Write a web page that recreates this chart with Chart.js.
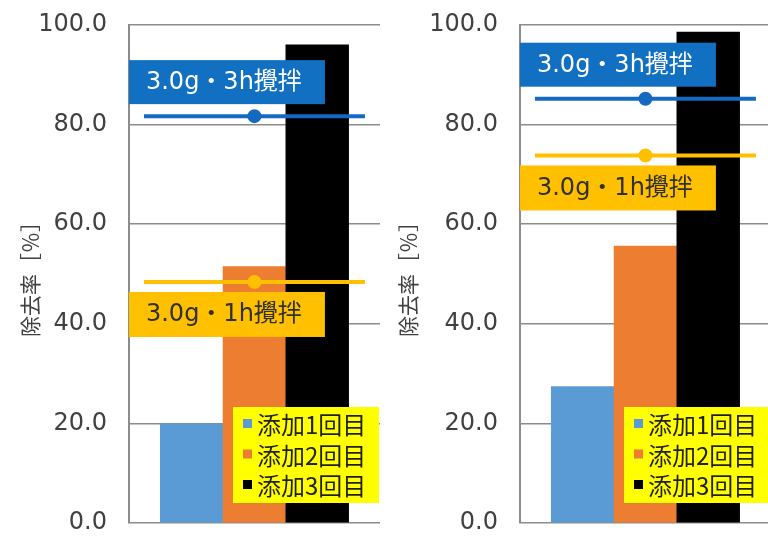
<!DOCTYPE html>
<html>
<head>
<meta charset="utf-8">
<script src="https://cdn.jsdelivr.net/npm/chart.js@4"></script>
<style>
  body { margin: 0; width: 768px; height: 540px; overflow: hidden; background: #fff; position: relative; }
  canvas { position: absolute; top: 0; }
  #leftChart { left: 0; }
  #rightChart { left: 391px; }
</style>
</head>
<body>
<canvas id="leftChart" width="391" height="540"></canvas>
<canvas id="rightChart" width="391" height="540"></canvas>
<script>
// ------- data --------------------------------
const seriesNames = ['添加1回目', '添加2回目', '添加3回目'];
const seriesColors = ['#5b9bd5', '#ed7d31', '#000000'];

const leftValues = [19.9, 51.5, 96.0];
const rightValues = [27.4, 55.6, 98.6];

// reference lines: [3h stirring, 1h stirring]
const refNames = ['3.0g・3h攪拌', '3.0g・1h攪拌'];
const leftRef = [81.7, 48.4];
const rightRef = [85.2, 73.8];

const yTitle = '除去率［％］';

// bars sit at x = 1, 2, 3 on a 0..4 axis; ref lines run across this span
const lineSpan = [0.24, 2, 3.76];

const tickFont = '"DejaVu Sans", "Noto Sans CJK JP", sans-serif';
const cjkFont = '"Noto Sans CJK JP", "DejaVu Sans", sans-serif';

// boxes with the ref line names + the yellow legend, drawn over the bars
const overlayPlugin = {
    id: 'overlay',
    afterDatasetsDraw(chart) {
        const ctx = chart.ctx;
        const area = chart.chartArea;
        const y = chart.scales.y;
        const ref = chart.config.options.refValues;

        ctx.save();
        ctx.font = '24px ' + tickFont;
        ctx.textBaseline = 'middle';
        ctx.textAlign = 'center';

        // 3h box sits above its line
        let yTop = y.getPixelForValue(ref[0]) - 12 - 44;
        ctx.fillStyle = '#1170c2';
        ctx.fillRect(area.left, yTop, 196, 44);
        ctx.fillStyle = '#ffffff';
        ctx.fillText(refNames[0], area.left + 95, yTop + 23);

        // 1h box sits under its line
        yTop = y.getPixelForValue(ref[1]) + 10;
        ctx.fillStyle = '#ffc000';
        ctx.fillRect(area.left, yTop, 196, 45);
        ctx.fillStyle = '#303030';
        ctx.fillText(refNames[1], area.left + 95, yTop + 23);

        // legend
        const lgRight = area.right - 1;
        const lgLeft = lgRight - 146;
        const lgBottom = area.bottom - 20;
        ctx.fillStyle = '#ffff00';
        ctx.fillRect(lgLeft, lgBottom - 96, lgRight - lgLeft, 96);
        ctx.font = '24px ' + cjkFont;
        ctx.textAlign = 'left';
        seriesNames.forEach((name, i) => {
            const cy = lgBottom - 79 + i * 30.5;
            ctx.fillStyle = seriesColors[i];
            ctx.fillRect(lgLeft + 10, cy - 5, 9, 9);
            ctx.fillStyle = '#1e1e1e';
            ctx.fillText(name, lgLeft + 24, cy + 1);
        });
        ctx.restore();
    }
};

function makeChart(id, values, ref, titlePad) {
    const datasets = [];

    // reference lines first so they sit on top of the bars
    const lineColors = ['#1469c0', '#ffc000'];
    ref.forEach((v, i) => {
        datasets.push({
            type: 'line',
            label: refNames[i],
            data: lineSpan.map(x => ({ x: x, y: v })),
            borderColor: lineColors[i],
            backgroundColor: lineColors[i],
            borderWidth: 4,
            pointRadius: [0, 5, 0],
            pointHoverRadius: 0,
            order: 0
        });
    });

    datasets.push({
        type: 'bar',
        label: '除去率',
        data: values.map((v, i) => ({ x: i + 1, y: v })),
        backgroundColor: seriesColors,
        categoryPercentage: 1.0,
        barPercentage: 1.0,
        order: 1
    });

    return new Chart(document.getElementById(id), {
        type: 'bar',
        data: { datasets: datasets },
        options: {
            responsive: false,
            animation: false,
            refValues: ref,
            layout: { padding: { top: 25, right: 11, bottom: 17, left: 0 } },
            plugins: { legend: { display: false }, tooltip: { enabled: false } },
            scales: {
                x: { type: 'linear', display: false, offset: false, min: 0, max: 4, ticks: { stepSize: 1 } },
                y: {
                    min: 0,
                    max: 100,
                    ticks: {
                        stepSize: 20,
                        padding: 0,
                        color: '#404040',
                        font: { family: tickFont, size: 24 },
                        callback: v => v.toFixed(1)
                    },
                    // invisible tick marks give the gap between labels and axis
                    grid: { color: '#8c8c8c', lineWidth: 1.5, drawTicks: true, tickLength: 22, tickColor: 'rgba(0,0,0,0)' },
                    border: { color: '#8c8c8c', width: 2 },
                    title: {
                        display: true,
                        text: yTitle,
                        color: '#404040',
                        font: { family: cjkFont, size: 21 },
                        padding: titlePad
                    }
                }
            }
        },
        plugins: [overlayPlugin]
    });
}

makeChart('leftChart', leftValues, leftRef, { top: 17, bottom: -4 });
makeChart('rightChart', rightValues, rightRef, { top: 4, bottom: 9 });
</script>
</body>
</html>
